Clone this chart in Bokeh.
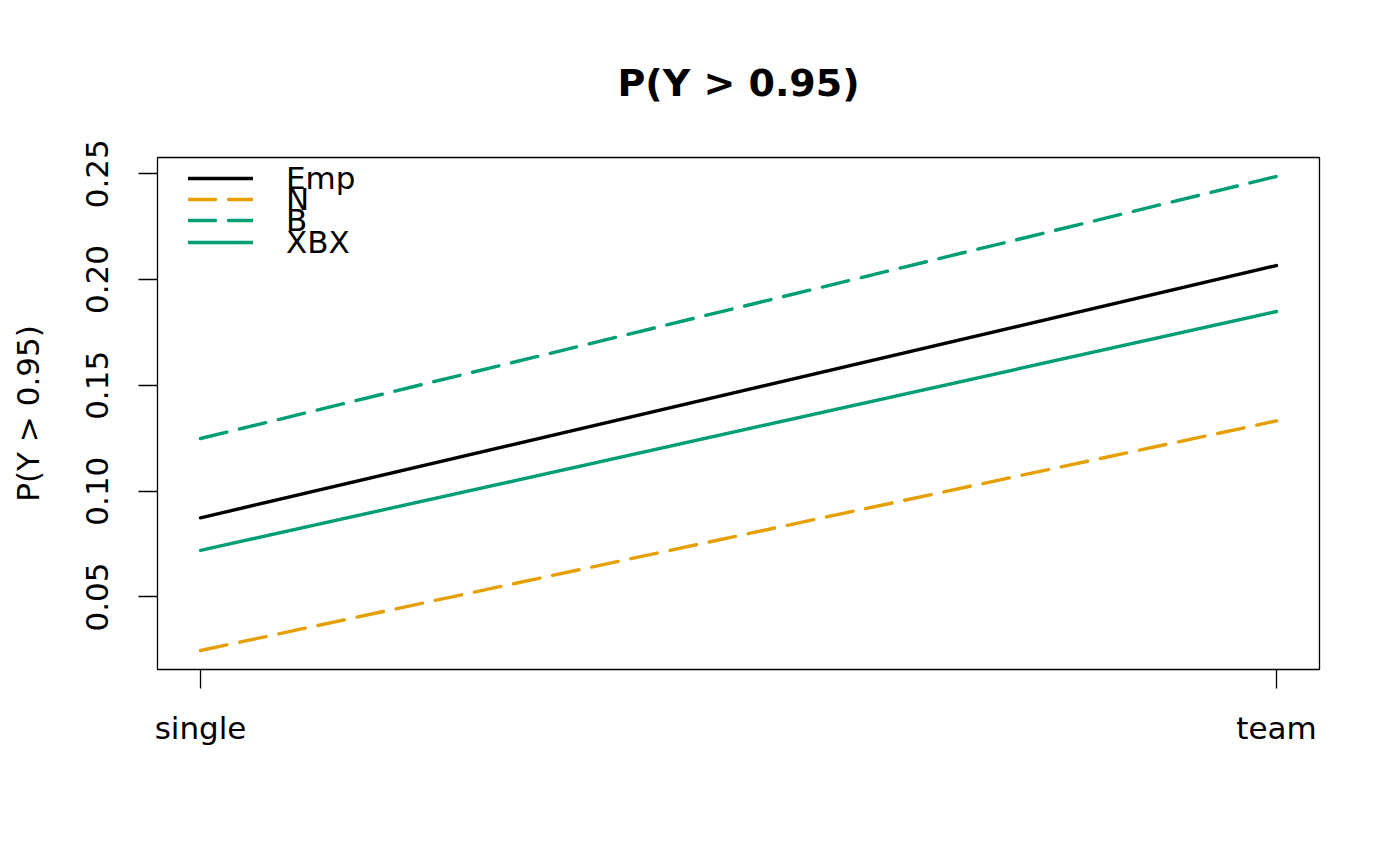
import numpy as np
from bokeh.plotting import figure
from bokeh.models import Range1d, FixedTicker, NumeralTickFormatter, Legend, LegendItem
from bokeh.embed import file_html
from bokeh.resources import INLINE

# data
groups = ["single", "team"]
emp = [0.0874, 0.2066]
n_fit = [0.0247, 0.1332]
b_fit = [0.1249, 0.2487]
xbx_fit = [0.0720, 0.1849]
names = ["Emp", "N", "B", "XBX"]
y_ticks = [0.05, 0.10, 0.15, 0.20, 0.25]

FONT = "DejaVu Sans"
ORANGE = "#E69F00"
GREEN = "#009E73"

xs = list(range(1, len(groups) + 1))

# R style axis limits: 4% padding on each side
allv = emp + n_fit + b_fit + xbx_fit
lo, hi = min(allv), max(allv)
pad = 0.04 * (hi - lo)
xpad = 0.04 * (xs[-1] - xs[0])

p = figure(width=1384, height=850, output_backend="svg", toolbar_location=None,
           x_range=Range1d(xs[0] - xpad, xs[-1] + xpad),
           y_range=Range1d(lo - pad, hi + pad),
           min_border_left=157, min_border_right=65,
           min_border_top=157, min_border_bottom=181)

p.title.text = "P(Y > 0.95)"
p.title.align = "center"
p.title.text_font = FONT
p.title.text_font_size = "38px"
p.title.text_font_style = "bold"
p.title.text_color = "black"
p.title.standoff = 105

p.xgrid.grid_line_color = None
p.ygrid.grid_line_color = None
p.outline_line_color = "black"
p.outline_line_width = 1.3
p.background_fill_color = "white"
p.border_fill_color = "white"

for ax in (p.xaxis, p.yaxis):
    ax.axis_line_color = None
    ax.major_tick_line_color = "black"
    ax.major_tick_line_width = 1.3
    ax.major_tick_out = 19
    ax.major_tick_in = 0
    ax.minor_tick_line_color = None
    ax.major_label_text_font = FONT
    ax.major_label_text_font_size = "31px"
    ax.major_label_text_color = "black"

p.xaxis.ticker = FixedTicker(ticks=xs)
p.xaxis.major_label_overrides = {x: g for x, g in zip(xs, groups)}
p.xaxis.major_label_standoff = 21

p.yaxis.ticker = FixedTicker(ticks=y_ticks)
p.yaxis.formatter = NumeralTickFormatter(format="0.00")
p.yaxis.major_label_orientation = "vertical"
p.yaxis.major_label_standoff = 30
p.yaxis.axis_label = "P(Y > 0.95)"
p.yaxis.axis_label_text_font = FONT
p.yaxis.axis_label_text_font_size = "31px"
p.yaxis.axis_label_text_font_style = "normal"
p.yaxis.axis_label_text_color = "black"
p.yaxis.axis_label_standoff = 38

styles = [
    (emp, "black", "solid"),
    (n_fit, ORANGE, "27 13"),
    (b_fit, GREEN, "27 13"),
    (xbx_fit, GREEN, "solid"),
]

renderers = []
for vals, col, dash in styles:
    r = p.line(xs, vals, line_color=col, line_width=3.4, line_dash=dash, line_cap="round")
    renderers.append(r)

# legend rows overlap as in the original, so one legend per row
row_bottoms = [471, 450, 429, 407]
for name, r, yb in zip(names, renderers, row_bottoms):
    lg = Legend(items=[LegendItem(label=name, renderers=[r])], location=(31, yb),
                padding=0, margin=0, spacing=0,
                glyph_width=65, glyph_height=40, label_height=40,
                label_standoff=33,
                label_text_font=FONT, label_text_font_size="31px",
                label_text_color="black",
                border_line_color=None, background_fill_alpha=0)
    p.add_layout(lg, "center")

open("out.html", "w").write(file_html(p, INLINE))
